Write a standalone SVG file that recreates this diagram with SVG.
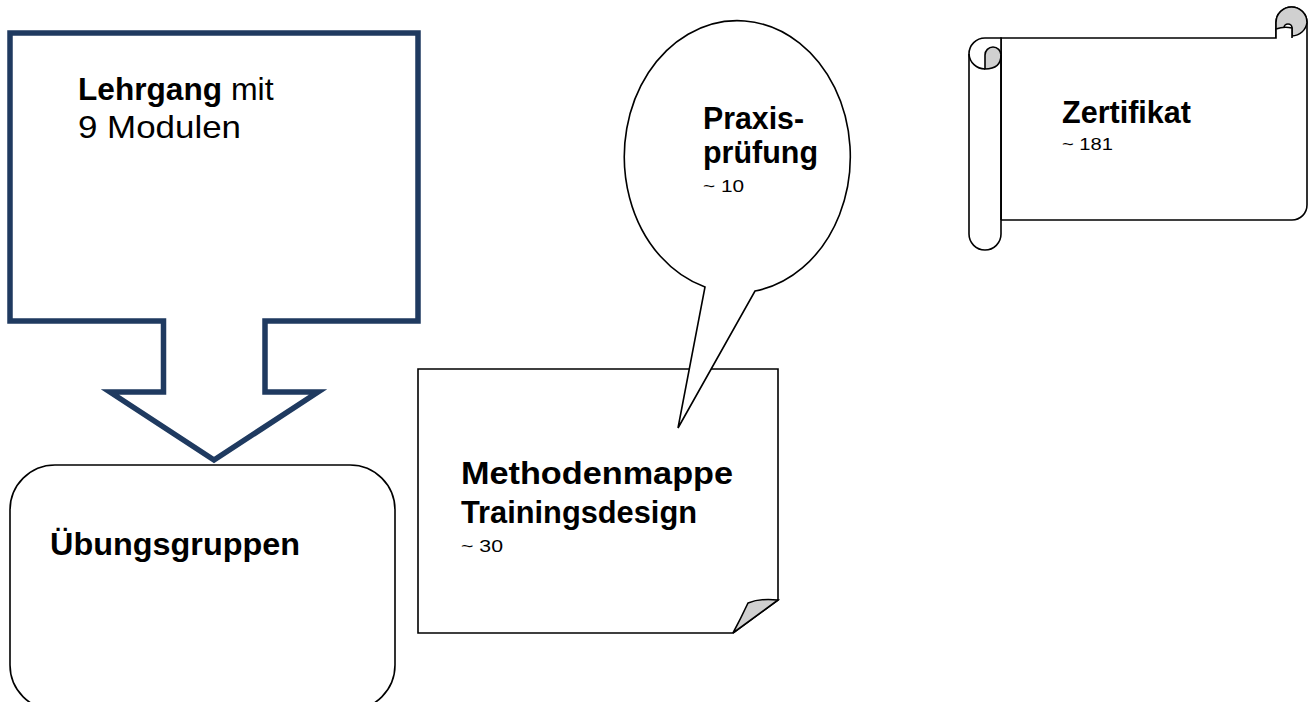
<svg xmlns="http://www.w3.org/2000/svg" width="1309" height="702" viewBox="0 0 1309 702">
<style>
.sh{fill:#fff;stroke:#000;stroke-width:1.6}
.ln{fill:none;stroke:#000;stroke-width:1.6}
.gr{fill:#d0d0d0;stroke:#000;stroke-width:1.6}
.b{font-family:"Liberation Sans",Arial,sans-serif;font-weight:bold;font-size:32px;fill:#000}
.r{font-family:"Liberation Sans",Arial,sans-serif;font-size:32px;fill:#000}
.s{font-family:"Liberation Sans",Arial,sans-serif;font-size:17px;fill:#000}
</style>
<rect width="1309" height="702" fill="#fff"/>
<g id="lehrgang">
<path d="M10,33 H418 V321 H265 V392 H318 L214,460 L110,392 H163.5 V321 H10 Z" fill="#fff" stroke="#1F3A60" stroke-width="5.5" stroke-linejoin="miter"/>
<text x="78" y="100"><tspan class="b" textLength="144" lengthAdjust="spacingAndGlyphs">Lehrgang</tspan><tspan class="r"> mit</tspan></text>
<text class="r" x="78" y="138" textLength="163" lengthAdjust="spacingAndGlyphs">9 Modulen</text>
</g>
<g id="uebungsgruppen">
<rect class="sh" x="10" y="465" width="385" height="245" rx="45" ry="45"/>
<text class="b" x="50" y="555" textLength="250" lengthAdjust="spacingAndGlyphs">Übungsgruppen</text>
</g>
<g id="methodenmappe">
<path class="sh" d="M418,369 H778 V600 L733,633 H418 Z"/>
<path class="gr" d="M778,600 Q760,598 748,603 Q741,618 733,633 Z"/>
<text class="b" x="461" y="484" textLength="272" lengthAdjust="spacingAndGlyphs">Methodenmappe</text>
<text class="b" x="461" y="523" textLength="236" lengthAdjust="spacingAndGlyphs">Trainingsdesign</text>
<text class="s" x="461" y="552" textLength="42" lengthAdjust="spacingAndGlyphs">~ 30</text>
</g>
<g id="praxispruefung">
<path class="sh" d="M705,287 A113,136 0 1 1 755,291 L678,428 Z"/>
<text class="b" x="703" y="129" textLength="101" lengthAdjust="spacingAndGlyphs">Praxis-</text>
<text class="b" x="703" y="163" textLength="115" lengthAdjust="spacingAndGlyphs">prüfung</text>
<text class="s" x="703" y="192" textLength="41" lengthAdjust="spacingAndGlyphs">~ 10</text>
</g>
<g id="zertifikat">
<path class="sh" d="M1001,38 H1276 V22.5 A15.5,15.5 0 0 1 1307,22.5 V205 A15,15 0 0 1 1292,220 H1001 Z"/>
<path class="gr" d="M1276,22.5 A15.5,15.5 0 0 1 1307,22.5 A15.5,15.5 0 0 1 1292,36 V28 A4,4 0 0 0 1284,28 L1276,30 Z"/>
<path class="sh" d="M1276,38 V29 Q1284,26 1292,28 V38"/>
<path class="sh" d="M1001,220 V234 A16,16 0 0 1 969,234 V54 A16,16 0 0 1 985,38 H1001 Z"/>
<path class="ln" d="M969,54 A16,16 0 0 0 985,69"/>
<path class="gr" d="M985,69 V55 A8,8 0 0 1 1001,55 Q1001,69 985,69 Z"/>
<line x1="1001" y1="55" x2="1001" y2="220" stroke="#000" stroke-width="1.6"/>
<text class="b" x="1062" y="123" textLength="129" lengthAdjust="spacingAndGlyphs">Zertifikat</text>
<text class="s" x="1062" y="150" textLength="51" lengthAdjust="spacingAndGlyphs">~ 181</text>
</g>
<g id="connectors"></g>
</svg>
